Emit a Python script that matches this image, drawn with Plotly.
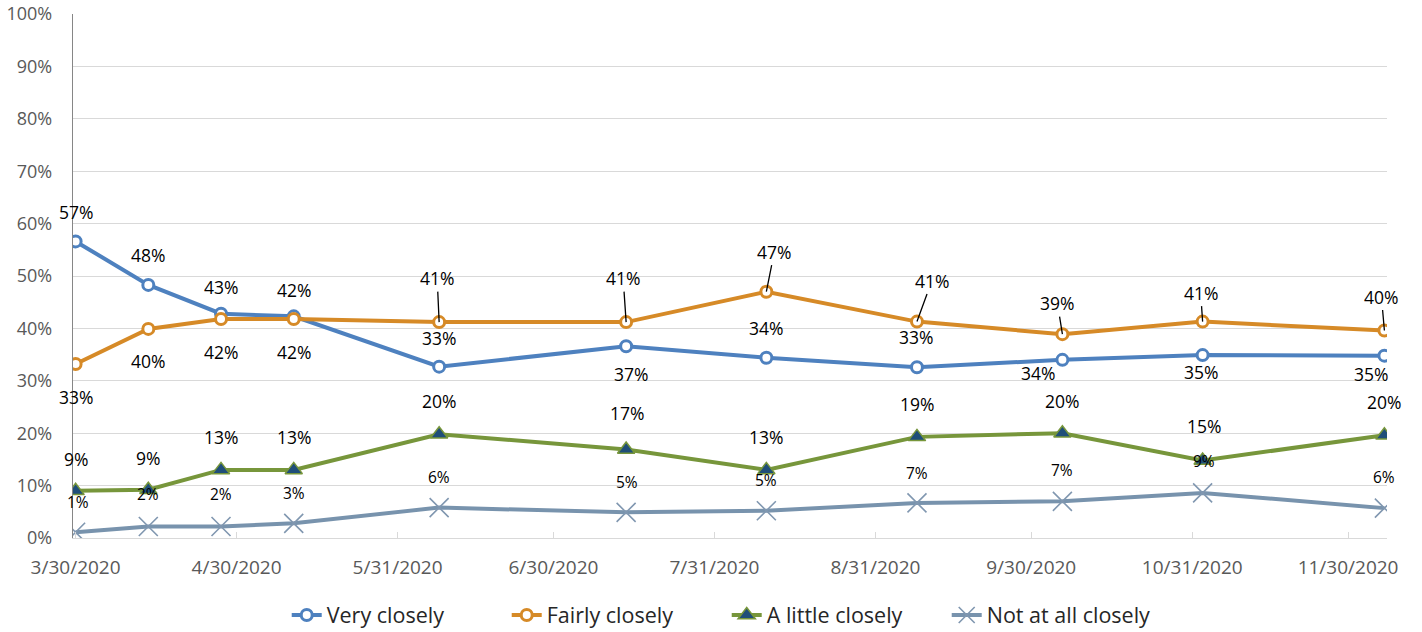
import plotly.graph_objects as go

# survey dates and shares (%)
dates = ["2020-03-30", "2020-04-13", "2020-04-27", "2020-05-11", "2020-06-08",
         "2020-07-14", "2020-08-10", "2020-09-08", "2020-10-06", "2020-11-02",
         "2020-12-07"]

very_closely = [56.6, 48.3, 42.8, 42.3, 32.7, 36.6, 34.4, 32.6, 34.0, 34.9, 34.8]
fairly_closely = [33.2, 39.9, 41.8, 41.8, 41.2, 41.2, 47.0, 41.3, 38.9, 41.3, 39.6]
little_closely = [9.0, 9.2, 13.0, 13.0, 19.8, 16.9, 13.0, 19.3, 20.0, 14.8, 19.6]
not_at_all = [1.1, 2.2, 2.2, 2.8, 5.8, 4.9, 5.2, 6.7, 7.0, 8.6, 5.7]

tick_dates = ["2020-03-30", "2020-04-30", "2020-05-31", "2020-06-30", "2020-07-31",
              "2020-08-31", "2020-09-30", "2020-10-31", "2020-11-30"]
tick_text = ["3/30/2020", "4/30/2020", "5/31/2020", "6/30/2020", "7/31/2020",
             "8/31/2020", "9/30/2020", "10/31/2020", "11/30/2020"]

# label placement (pixel offsets from the point, dy > 0 is down)
blue_off = [(0, -29), (0, -30), (0, -27), (0, -26), (0, -29), (5, 28),
            (0, -30), (-1, -30), (-24, 13), (-2, 17), (-13, 18)]
orange_off = [(0, 33), (0, 32), (0, 33), (0, 33), (-2, -44), (-3, -44),
              (8, -40), (15, -41), (-5, -31), (-2, -29), (-3, -34)]
orange_lead = [False, False, False, False, True, True, True, True, True, True, True]
green_off = [(0, -32), (0, -32), (0, -33), (0, -33), (0, -33), (1, -36),
             (0, -33), (0, -33), (0, -32), (1, -34), (0, -33)]
gray_off = [(2, -30), (0, -32), (0, -32), (0, -30), (0, -31), (1, -30),
            (0, -31), (0, -30), (0, -31), (1, -32), (0, -31)]

BLUE = "#4e81bf"
ORANGE = "#d68a27"
GREEN = "#77963b"
GRAY = "#7893ad"
FONT = "Open Sans"

fig = go.Figure()

fig.add_trace(go.Scatter(
    x=dates, y=very_closely, name="Very closely", mode="lines+markers",
    line=dict(color=BLUE, width=4),
    marker=dict(symbol="circle", size=11, color="white", line=dict(color=BLUE, width=3)),
))
fig.add_trace(go.Scatter(
    x=dates, y=fairly_closely, name="Fairly closely", mode="lines+markers",
    line=dict(color=ORANGE, width=4),
    marker=dict(symbol="circle", size=11, color="white", line=dict(color=ORANGE, width=3)),
))
fig.add_trace(go.Scatter(
    x=dates, y=little_closely, name="A little closely", mode="lines+markers",
    line=dict(color=GREEN, width=4),
    marker=dict(symbol="triangle-up", size=15, color="#1f4e79", line=dict(color=GREEN, width=1.5)),
))
fig.add_trace(go.Scatter(
    x=dates, y=not_at_all, name="Not at all closely", mode="lines+markers",
    line=dict(color=GRAY, width=4),
    marker=dict(symbol="x-thin", size=19, color=GRAY, line=dict(color="#8097b0", width=1.6)),
))


def add_labels(values, offsets, leads=None, size=17.5):
    for i, (d, v) in enumerate(zip(dates, values)):
        dx, dy = offsets[i]
        txt = f"{round(v)}%"
        if leads and leads[i]:
            fig.add_annotation(
                x=d, y=v, text=txt, showarrow=True, ax=dx, ay=dy,
                arrowhead=0, arrowwidth=1.3, arrowcolor="black", standoff=0,
                font=dict(family=FONT, size=size, color="black"),
            )
        else:
            fig.add_annotation(
                x=d, y=v, text=txt, showarrow=False, xshift=dx, yshift=-dy,
                font=dict(family=FONT, size=size, color="black"),
            )


add_labels(very_closely, blue_off)
add_labels(fairly_closely, orange_off, orange_lead)
add_labels(little_closely, green_off)
add_labels(not_at_all, gray_off, size=15.5)

fig.update_layout(
    width=1422, height=632,
    margin=dict(l=73, r=35, t=14, b=94, autoexpand=False),
    paper_bgcolor="white", plot_bgcolor="white",
    font=dict(family=FONT, size=18, color="#595959"),
    showlegend=True,
    legend=dict(orientation="h", x=0.4975, xanchor="center", y=-0.147, yanchor="middle",
                entrywidth=175, entrywidthmode="pixels",
                font=dict(family=FONT, size=21.5, color="#262626")),
    xaxis=dict(
        type="date", range=["2020-03-29 12:00", "2020-12-07 12:00"],
        tickmode="array", tickvals=tick_dates, ticktext=tick_text,
        showgrid=False, showline=True, linecolor="#d9d9d9", linewidth=1.3,
        ticks="inside", ticklen=6, tickcolor="#d9d9d9", tickwidth=1.3,
        ticklabelstandoff=12, automargin=False,
        tickfont=dict(family=FONT, size=19, color="#595959"),
    ),
    yaxis=dict(
        range=[0, 100], dtick=10, ticksuffix="%",
        showgrid=True, gridcolor="#d9d9d9", gridwidth=1.3,
        showline=True, linecolor="#868686", linewidth=1.3, zeroline=False,
        ticklabelstandoff=16, automargin=False, ticklabeloverflow="allow",
        tickfont=dict(family=FONT, size=18, color="#595959"),
    ),
)

# drop the default 8px body margin so the figure fills the window
fig.write_html("out.html", config={"displayModeBar": False},
               post_script="document.body.style.margin='0';")
